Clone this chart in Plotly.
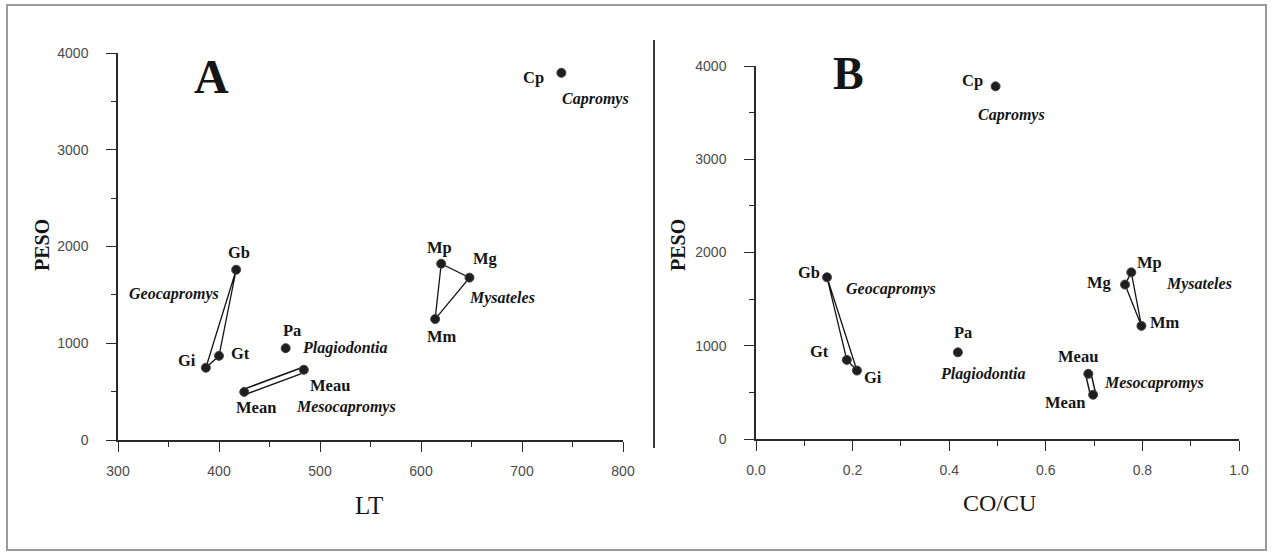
import plotly.graph_objects as go

# ---------------- data ----------------
codes = ["Cp", "Gb", "Gi", "Gt", "Pa", "Meau", "Mean", "Mp", "Mg", "Mm"]
lt = [739, 417, 387, 400, 466, 484, 425, 620, 648, 614]
peso_a = [3795, 1760, 747, 870, 949, 726, 497, 1822, 1678, 1250]
co_cu = [0.496, 0.147, 0.209, 0.188, 0.418, 0.688, 0.698, 0.777, 0.764, 0.798]
peso_b = [3782, 1734, 734, 848, 929, 699, 475, 1787, 1656, 1213]

genera = ["Capromys", "Geocapromys", "Plagiodontia", "Mesocapromys", "Mysateles"]
geo_group = ["Gb", "Gi", "Gt"]
mys_group = ["Mp", "Mg", "Mm"]
meso_group = ["Meau", "Mean"]

x_ticks_a = [300, 400, 500, 600, 700, 800]
x_ticks_b = [0.0, 0.2, 0.4, 0.6, 0.8, 1.0]
y_ticks = [0, 1000, 2000, 3000, 4000]

# ---------------- layout helpers (pixel offsets) ----------------
W, H = 1272, 553
code_off_a = {"Cp": (-28, -5), "Gb": (3, 17), "Gi": (-19, 7), "Gt": (21, 2), "Pa": (6, 18),
              "Meau": (26, -16), "Mean": (12, -16), "Mp": (-2, 16), "Mg": (16, 19), "Mm": (7, -17)}
code_off_b = {"Cp": (-23, 6), "Gb": (-18, 5), "Gt": (-27, 8), "Gi": (16, -7), "Pa": (5, 20),
              "Meau": (-10, 17), "Mean": (-28, -8), "Mp": (18, 10), "Mg": (-26, 2), "Mm": (24, 3)}
genus_pos_a = {"Capromys": ("Cp", 34, -26, "center"), "Geocapromys": ("Gb", -62, -24, "center"),
               "Plagiodontia": ("Pa", 14, 0, "left"), "Mesocapromys": ("Meau", 42, -37, "center"),
               "Mysateles": ("Mg", 33, -20, "center")}
genus_pos_b = {"Capromys": ("Cp", 16, -29, "center"), "Geocapromys": ("Gb", 64, -12, "center"),
               "Plagiodontia": ("Pa", 25, -22, "center"), "Mesocapromys": ("Meau", 14, -9, "left"),
               "Mysateles": ("Mp", 68, -12, "center")}

SERIF = "Liberation Serif, Times New Roman, serif"
TICKFONT = dict(family="Liberation Sans Narrow, Arial Narrow, Liberation Sans, sans-serif",
                size=14, color="#4a4a4a")
INK = "#151515"

fig = go.Figure()


def pick(group, xs, ys):
    idx = [codes.index(c) for c in group]
    return [xs[i] for i in idx], [ys[i] for i in idx]


def add_panel(xs, ys, xa, ya, geo_order, mys_order):
    # triangles
    for grp in (geo_order, mys_order):
        gx, gy = pick(grp + [grp[0]], xs, ys)
        fig.add_trace(go.Scatter(x=gx, y=gy, mode="lines", xaxis=xa, yaxis=ya,
                                 line=dict(color=INK, width=1.3), hoverinfo="skip",
                                 showlegend=False, cliponaxis=False))
    # hollow band for Mesocapromys
    mx, my = pick(meso_group, xs, ys)
    fig.add_trace(go.Scatter(x=mx, y=my, mode="lines", xaxis=xa, yaxis=ya,
                             line=dict(color=INK, width=7), hoverinfo="skip",
                             showlegend=False, cliponaxis=False))
    fig.add_trace(go.Scatter(x=mx, y=my, mode="lines", xaxis=xa, yaxis=ya,
                             line=dict(color="white", width=4), hoverinfo="skip",
                             showlegend=False, cliponaxis=False))
    fig.add_trace(go.Scatter(x=xs, y=ys, mode="markers", xaxis=xa, yaxis=ya, text=codes,
                             marker=dict(size=9, color="#1e1e1e", line=dict(color="#444", width=1)),
                             showlegend=False, cliponaxis=False))


add_panel(lt, peso_a, "x", "y", ["Gb", "Gi", "Gt"], ["Mp", "Mg", "Mm"])
add_panel(co_cu, peso_b, "x2", "y2", ["Gb", "Gi", "Gt"], ["Mg", "Mp", "Mm"])

annotations = []
for xs, ys, xr, yr, offs, gpos in ((lt, peso_a, "x", "y", code_off_a, genus_pos_a),
                                    (co_cu, peso_b, "x2", "y2", code_off_b, genus_pos_b)):
    for i, c in enumerate(codes):
        dx, dy = offs[c]
        annotations.append(dict(x=xs[i], y=ys[i], xref=xr, yref=yr, text="<b>" + c + "</b>",
                                showarrow=False, xshift=dx, yshift=dy,
                                xanchor="center", yanchor="middle",
                                font=dict(family=SERIF, size=16.5, color=INK)))
    for g in genera:
        c, dx, dy, anc = gpos[g]
        i = codes.index(c)
        annotations.append(dict(x=xs[i], y=ys[i], xref=xr, yref=yr, text="<b><i>" + g + "</i></b>",
                                showarrow=False, xshift=dx, yshift=dy, xanchor=anc, yanchor="middle",
                                font=dict(family=SERIF, size=16, color=INK)))


def px(x):
    return x / W


def py(y):
    return 1 - y / H


def paper_text(x, y, text, size, angle=0):
    return dict(x=px(x), y=py(y), xref="paper", yref="paper", text=text, showarrow=False,
                xanchor="center", yanchor="middle", textangle=angle,
                font=dict(family=SERIF, size=size, color=INK))


# panel letters & axis titles
annotations += [
    paper_text(211, 76, "<b>A</b>", 48),
    paper_text(848, 73, "<b>B</b>", 46),
    paper_text(42, 245, "<b>PESO</b>", 20, -90),
    paper_text(678, 245, "<b>PESO</b>", 20, -90),
    paper_text(369, 505, "LT", 25),
    paper_text(999, 503, "CO/CU", 24),
]

axis_common = dict(showline=True, linecolor="#2a2a2a", linewidth=1.5, showgrid=False, zeroline=False,
                   ticks="outside", ticklen=10, tickwidth=1.3, tickcolor="#2a2a2a",
                   tickfont=TICKFONT, fixedrange=True, automargin=False)
minor_common = dict(ticks="outside", ticklen=5, tickcolor="#2a2a2a")

fig.update_layout(
    template="none",
    width=W, height=H, margin=dict(l=0, r=0, t=0, b=0, autoexpand=False),
    paper_bgcolor="white", plot_bgcolor="white", showlegend=False,
    xaxis=dict(domain=[px(118), px(623)], range=[300, 800], anchor="y", tickvals=x_ticks_a,
               minor=dict(dtick=50, **minor_common), ticklabelstandoff=7, **axis_common),
    yaxis=dict(domain=[py(440), py(53)], range=[0, 4000], anchor="x", tickvals=y_ticks,
               minor=dict(dtick=500, **minor_common), ticklabelstandoff=15, **axis_common),
    xaxis2=dict(domain=[px(756), px(1239)], range=[0, 1], anchor="y2", tickvals=x_ticks_b,
                tickformat=".1f", minor=dict(dtick=0.1, **minor_common),
                ticklabelstandoff=7, **axis_common),
    yaxis2=dict(domain=[py(439), py(66)], range=[0, 4000], anchor="x2", tickvals=y_ticks,
                minor=dict(dtick=500, **minor_common), ticklabelstandoff=15, **axis_common),
    annotations=annotations,
    shapes=[
        dict(type="rect", xref="paper", yref="paper", x0=px(7), x1=px(1266), y0=py(550), y1=py(5),
             line=dict(color="#9a9a9a", width=2)),
        dict(type="line", xref="paper", yref="paper", x0=px(654), x1=px(654), y0=py(448), y1=py(40),
             line=dict(color="#3a3a3a", width=2)),
    ],
)

fig.write_html("out.html", config={"displayModeBar": False},
               post_script="document.body.style.margin='0';document.body.style.overflow='hidden';")
